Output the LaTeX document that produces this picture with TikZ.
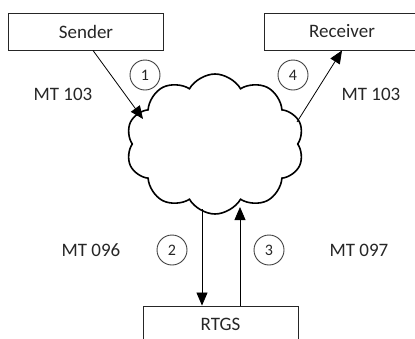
\documentclass[tikz,border=0pt]{standalone}
\usepackage{fontspec}
\setmainfont{Carlito}
\usetikzlibrary{shapes.symbols,arrows.meta}

\tikzset{
  party/.style={draw=black!85, line width=0.9pt, minimum width=155pt, minimum height=37pt,
    inner sep=0pt, font=\fontsize{19}{21}\selectfont, text=black!85},
  stepno/.style={draw=black!75, circle, line width=0.9pt, minimum size=30pt, inner sep=0pt,
    font=\fontsize{16}{18}\selectfont, text=black!85},
  msg/.style={font=\fontsize{19}{21}\selectfont, text=black!85},
  flow/.style={line width=0.8pt, -{Triangle[length=13pt,width=11pt]}}
}

\begin{document}
\begin{tikzpicture}[x=1pt,y=-1pt]
    \useasboundingbox (0,0) rectangle (415,338);
    \clip (0,0) rectangle (415,338);

    %Boxes
    \node[party] (sender) at (86,31.5) {Sender};
    \node[party] (receiver) at (342,31.5) {Receiver};
    \node[party] (rtgs) at (220.5,324.5) {RTGS};

    %Network
    \node[cloud, draw, line width=1.6pt, cloud puffs=10, cloud puff arc=120, aspect=1.3,
      shape border rotate=8, minimum width=178pt, minimum height=140pt, inner sep=0pt] (net) at (215,144) {};

    \coordinate (in1) at (143,119);
    \coordinate (out4) at (297,122);
    \coordinate (out2) at (202,209);
    \coordinate (in3) at (240,207);

    % gap in the outline where flow 1 enters
    \fill[white] (in1) circle (5pt);

    %Flows
    \draw[flow] ([xshift=7pt]sender.south) -- (in1);
    \draw[flow] (out4) -- (receiver.south);
    \draw[flow] (out2) -- (out2 |- rtgs.north);
    \draw[flow] (in3 |- rtgs.north) -- (in3);

    %Steps
    \node[stepno] (s1) at (145,75) {1};
    \node[stepno] (s4) at (293,75) {4};
    \node[stepno] (s2) at (172,250) {2};
    \node[stepno] (s3) at (269,250) {3};

    \node[msg] (m1) at (63,94) {MT 103};
    \node[msg] (m4) at (371,94) {MT 103};
    \node[msg] (m2) at (91,250) {MT 096};
    \node[msg] (m3) at (359,250) {MT 097};
  \end{tikzpicture}
\end{document}
